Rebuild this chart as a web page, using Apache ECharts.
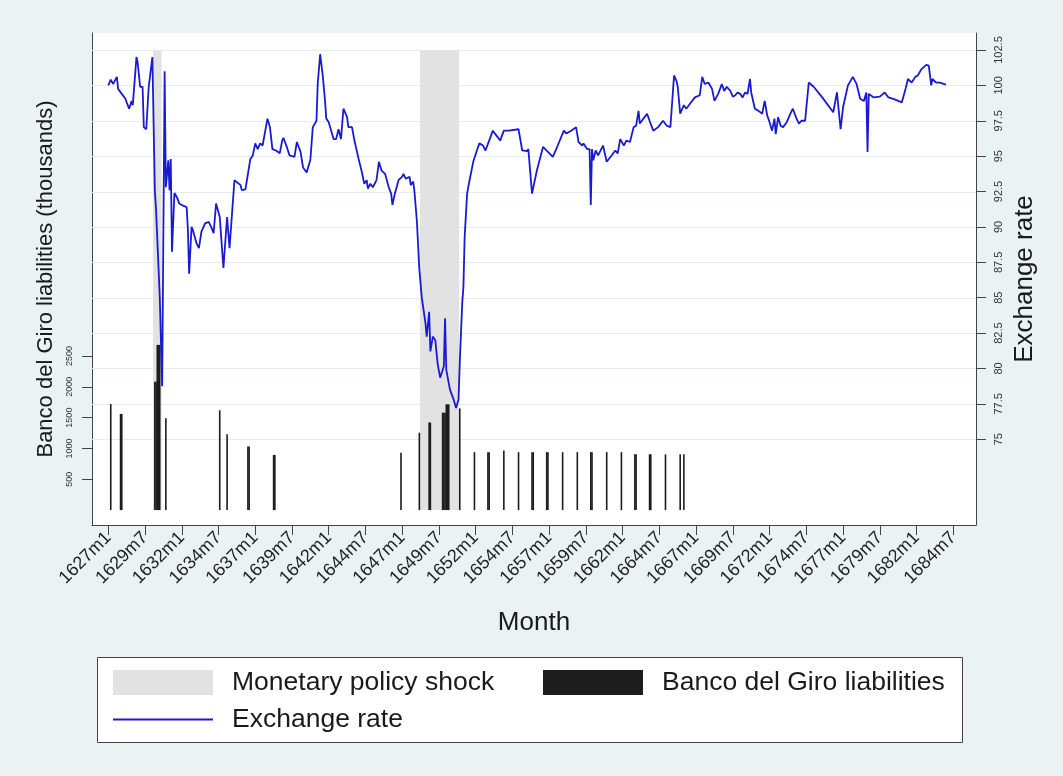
<!DOCTYPE html>
<html>
<head>
<meta charset="utf-8">
<script src="https://cdn.jsdelivr.net/npm/echarts@6/dist/echarts.min.js"></script>
<style>
  html, body { margin: 0; padding: 0; background: #eaf2f3; }
  #chart { width: 1063px; height: 776px; }
</style>
</head>
<body>
<div id="chart"></div>
<script>
// Months are counted from 1627m1 (= 0).
const rateMonths = [0,2,4,7,8,11,14,15,17,19,20,23,24,26,28,29,31,33,36,38,39,42,44,46,47,49,50,51,52,54,56,58,61,64,65,66,68,69,72,74,76,79,82,84,86,88,91,94,97,99,103,108,109,112,116,118,120,122,124,126,130,132,134,137,140,142,143,146,148,152,154,157,159,162,165,167,170,171,173,175,177,178,180,182,184,186,188,190,192,195,196,199,201,204,207,209,211,212,214,216,219,221,223,226,229,231,232,234,237,240,241,243,246,247,249,250,252,254,256,259,260,262,263,265,267,269,271,274,275,276,279,282,284,286,287,289,290,291,293,295,298,301,303,306,308,311,314,317,320,323,327,335,338,342,343,346,350,355,359,363,367,372,374,378,382,384,387,388,391,393,394,395,396,398,400,404,407,411,414,416,418,421,423,426,429,431,433,434,437,440,442,445,449,453,456,459,462,464,465,467,470,472,475,479,483,485,487,490,493,495,498,501,503,505,508,510,512,514,516,518,520,522,524,525,528,531,534,536,538,540,542,544,545,547,549,551,554,557,559,562,564,566,569,572,576,583,592,595,598,600,604,608,611,614,617,619,620,621,625,630,634,637,641,648,651,653,656,659,661,664,668,670,672,673,676,679,684];
const rateValues = [100.0,100.4,100.1,100.6,99.75,99.4,99.05,98.8,98.35,98.9,98.6,102.0,101.6,99.9,99.9,97.05,96.9,99.9,102.0,92.6,91.2,85.1,78.75,101.0,92.8,94.7,92.6,94.8,88.25,92.4,92.1,91.65,91.5,91.4,89.8,86.7,90.0,89.8,88.85,88.5,89.65,90.25,90.35,90.0,89.55,91.65,90.7,87.1,90.7,88.5,93.3,92.95,92.6,92.65,94.8,95.05,95.9,95.5,95.9,95.75,97.65,97.05,95.5,95.4,95.2,96.1,96.3,95.6,95.05,94.95,96.0,95.3,94.2,93.85,94.75,97.05,97.5,100.1,102.2,100.8,98.9,97.65,97.4,96.8,96.2,96.2,96.9,96.2,98.35,97.75,97.05,97.05,96.1,94.95,93.9,93.05,93.3,92.7,93.05,92.8,93.3,94.6,94.0,93.75,92.8,92.35,91.55,92.35,93.3,93.55,93.75,93.4,93.55,92.95,93.2,92.5,90.4,87.0,85.0,83.2,82.25,84.0,81.2,82.25,82.0,80.3,79.35,80.15,83.55,79.9,78.5,77.8,77.2,77.8,80.4,84.6,85.8,89.3,92.35,93.3,94.6,95.4,95.9,95.75,95.4,96.1,96.8,96.45,96.1,96.8,96.8,96.9,95.4,95.35,95.5,92.35,94.0,95.65,95.3,94.95,95.75,96.8,96.6,96.8,97.05,96.0,95.75,95.9,95.5,95.5,91.55,95.5,94.7,95.4,95.05,95.75,94.6,95.05,95.4,95.2,96.2,95.75,96.1,96.0,97.05,97.15,98.2,97.3,97.65,98.0,97.5,96.8,97.05,97.5,97.15,97.05,100.7,100.3,99.9,98.0,98.6,98.35,98.7,99.15,99.3,100.6,100.1,100.2,99.75,98.9,99.4,100.1,99.6,99.9,99.6,99.2,99.3,99.5,99.4,99.15,99.5,99.4,100.45,99.5,98.35,98.2,98.0,98.9,97.9,97.4,96.8,97.65,96.55,97.75,97.15,97.05,97.4,98.0,98.35,97.65,97.3,97.5,97.5,100.2,99.9,99.15,98.1,99.5,96.9,98.45,100.0,100.6,100.1,99.05,98.9,99.5,95.3,99.4,99.15,99.2,99.5,99.15,99.05,98.8,99.75,100.45,100.2,100.6,100.7,101.15,101.45,101.4,100.0,100.45,100.2,100.2,100.05];

const giroMonths = [2,10,11,38,39,40,41,42,47,91,97,114,115,135,136,239,254,262,263,273,274,275,276,277,278,287,299,310,311,323,335,346,347,358,359,371,383,394,395,407,419,430,431,442,443,455,467,470];
const giroValues = [1720,1560,1560,2080,2080,2680,2680,2680,1490,1620,1230,1030,1030,895,895,930,1255,1420,1420,1580,1580,1580,1715,1715,1715,1650,940,940,940,965,940,940,940,940,940,940,940,940,940,940,940,905,905,905,905,905,905,905];

// Monetary policy shock periods (first and last month) and the height of the shading
const shockFirstMonth = [37, 255];
const shockLastMonth = [43, 286];
const shockHeight = 7450;

const monthTicks = [0,30,60,90,120,150,180,210,240,270,300,330,360,390,420,450,480,510,540,570,600,630,660,690];
const rateTicks = [75,77.5,80,82.5,85,87.5,90,92.5,95,97.5,100,102.5];
const giroTicks = [500,1000,1500,2000,2500];

const FONT = "'Liberation Sans', Arial, Helvetica, sans-serif";
const INK = '#1a1a1a';
const AXIS = '#444';
const RATE_BLUE = '#1a1ad2';

function monthLabel(m) {
  const year = 1627 + Math.floor(m / 12);
  return year + 'm' + (m % 12 + 1);
}

// shared look of the two legend columns
const legendBase = {
  top: 669,
  orient: 'vertical',
  itemWidth: 100, itemHeight: 25, itemGap: 10,
  padding: 0,
  selectedMode: false,
  symbolKeepAspect: true,
  textStyle: { fontFamily: FONT, fontSize: 26.5, color: INK, padding: [0, 0, 0, 14] }
};

const chart = echarts.init(document.getElementById('chart'), null, { renderer: 'canvas' });

const option = {
  animation: false,
  backgroundColor: '#eaf2f3',
  textStyle: { fontFamily: FONT },
  grid: {
    left: 92, right: 87, top: 33, bottom: 251,
    show: true, backgroundColor: '#ffffff', borderWidth: 0
  },
  // legend frame
  graphic: [{
    type: 'rect', z: 0, silent: true,
    shape: { x: 97.5, y: 657.5, width: 865, height: 85 },
    style: { fill: '#ffffff', stroke: AXIS, lineWidth: 1 }
  }],
  legend: [
    Object.assign({}, legendBase, {
      left: 113,
      data: [
        { name: 'Monetary policy shock', icon: 'rect' },
        { name: 'Exchange rate', icon: 'path://M0 0H100V2H0Z' }
      ]
    }),
    Object.assign({}, legendBase, {
      left: 543,
      data: [{ name: 'Banco del Giro liabilities', icon: 'rect' }]
    })
  ],
  xAxis: {
    type: 'value',
    min: -13.31, max: 708.56,
    name: 'Month', nameLocation: 'middle', nameGap: 85,
    nameTextStyle: { fontFamily: FONT, fontSize: 26, color: INK },
    axisLine: { show: true, onZero: false, lineStyle: { color: AXIS, width: 1 } },
    axisTick: { show: true, customValues: monthTicks, length: 10, lineStyle: { color: AXIS } },
    axisLabel: {
      customValues: monthTicks, rotate: 45, margin: 10,
      fontFamily: FONT, fontSize: 18, color: '#222',
      formatter: v => monthLabel(v)
    },
    splitLine: { show: false }
  },
  yAxis: [
    {
      type: 'value', position: 'left',
      min: -241.7, max: 7739,
      name: 'Banco del Giro liabilities (thousands)',
      nameLocation: 'middle', nameRotate: 90, nameGap: 34,
      nameTextStyle: { fontFamily: FONT, fontSize: 22, color: INK },
      axisLine: { show: true, onZero: false, lineStyle: { color: AXIS, width: 1 } },
      axisTick: { show: true, customValues: giroTicks, length: 10, lineStyle: { color: AXIS } },
      axisLabel: {
        customValues: giroTicks, rotate: 90, margin: 18,
        fontFamily: FONT, fontSize: 9, color: '#333',
        formatter: v => String(v)
      },
      splitLine: { show: false }
    },
    {
      type: 'value', position: 'right',
      min: 68.94, max: 103.70,
      name: 'Exchange rate',
      nameLocation: 'middle', nameRotate: 90, nameGap: 31,
      nameTextStyle: { fontFamily: FONT, fontSize: 26, color: INK },
      axisLine: { show: true, onZero: false, lineStyle: { color: AXIS, width: 1 } },
      axisTick: { show: true, customValues: rateTicks, length: 10, lineStyle: { color: AXIS } },
      axisLabel: {
        customValues: rateTicks, rotate: 90, margin: 17,
        fontFamily: FONT, fontSize: 11, color: '#333',
        formatter: v => String(v)
      },
      splitLine: { show: false }
    }
  ],
  series: [
    {
      // horizontal gridlines at the exchange-rate ticks
      type: 'custom',
      name: 'gridlines',
      yAxisIndex: 1,
      silent: true,
      z: 1,
      data: rateTicks.map(v => [0, v]),
      renderItem: (params, api) => {
        const cs = params.coordSys;
        const y = Math.round(api.coord([0, api.value(1)])[1]) + 0.5;
        return {
          type: 'line',
          shape: { x1: cs.x, y1: y, x2: cs.x + cs.width, y2: y },
          style: { stroke: '#e3ecee', lineWidth: 1.2 }
        };
      }
    },
    {
      type: 'custom',
      name: 'Monetary policy shock',
      yAxisIndex: 0,
      silent: true,
      z: 2,
      itemStyle: { color: '#e2e2e2' },
      data: shockFirstMonth.map((m, i) => [m, shockLastMonth[i], shockHeight]),
      renderItem: (params, api) => {
        const topLeft = api.coord([api.value(0) - 0.5, api.value(2)]);
        const bottomRight = api.coord([api.value(1) + 0.5, 0]);
        return {
          type: 'rect',
          shape: {
            x: topLeft[0], y: topLeft[1],
            width: bottomRight[0] - topLeft[0],
            height: bottomRight[1] - topLeft[1]
          },
          style: api.style()
        };
      }
    },
    {
      type: 'bar',
      name: 'Banco del Giro liabilities',
      yAxisIndex: 0,
      z: 3,
      barWidth: 1.6,
      itemStyle: { color: '#1c1c1c' },
      data: giroMonths.map((m, i) => [m, giroValues[i]])
    },
    {
      type: 'line',
      name: 'Exchange rate',
      yAxisIndex: 1,
      z: 4,
      symbol: 'none',
      lineStyle: { color: RATE_BLUE, width: 1.8 },
      itemStyle: { color: RATE_BLUE },
      data: rateMonths.map((m, i) => [m, rateValues[i]])
    }
  ]
};

chart.setOption(option);
</script>
</body>
</html>
